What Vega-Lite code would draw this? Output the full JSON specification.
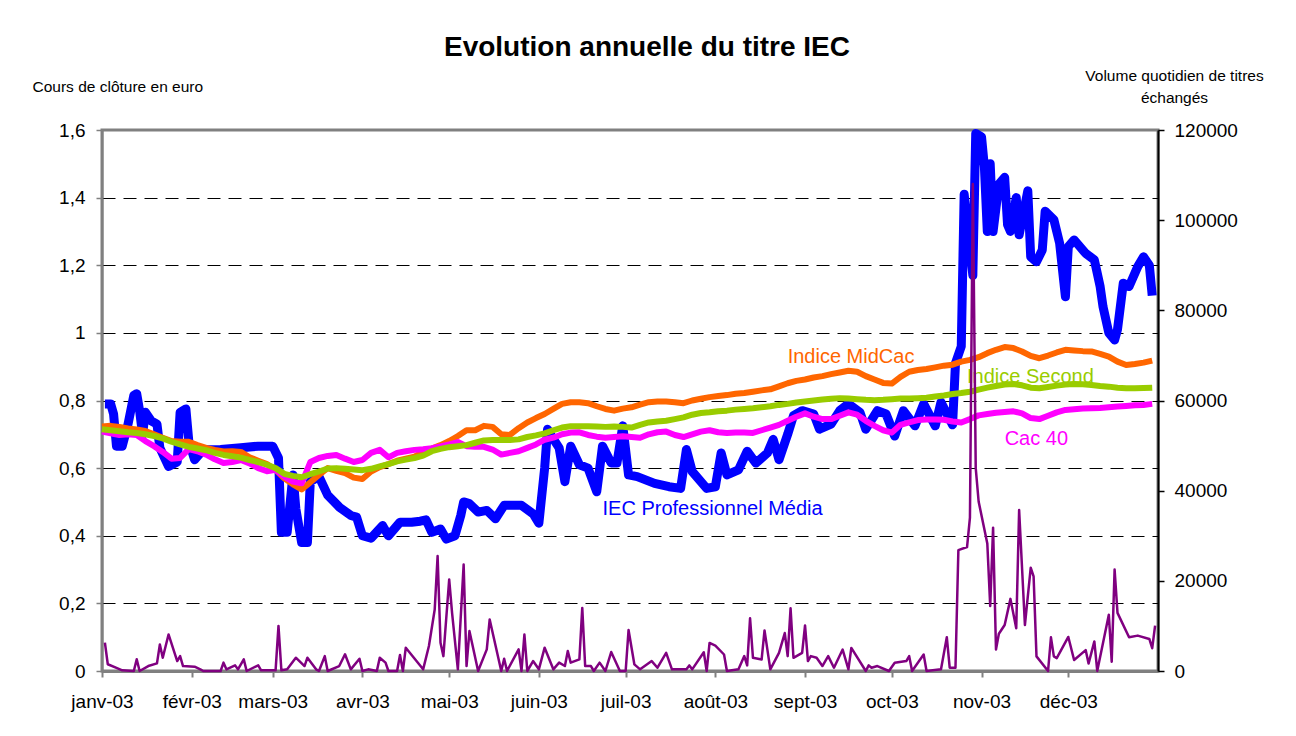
{
  "$schema": "https://vega.github.io/schema/vega-lite/v6.json",
  "width": 1056,
  "height": 541,
  "autosize": {"type": "none"},
  "padding": {"left": 102, "top": 130, "right": 138, "bottom": 65},
  "background": "white",
  "title": {"text": "Evolution annuelle du titre IEC", "fontSize": 28, "fontWeight": "bold", "font": "Liberation Sans", "color": "#000000", "anchor": "middle", "frame": "group", "dx": 17, "offset": 6},
  "datasets": {
    "idx": [
      {"date":"2003-01-01","mid":0.723,"sec":0.715,"cac":0.708},
      {"date":"2003-01-04","mid":0.725,"sec":0.712,"cac":0.703},
      {"date":"2003-01-07","mid":0.722,"sec":0.709,"cac":0.698},
      {"date":"2003-01-10","mid":0.717,"sec":0.706,"cac":0.700},
      {"date":"2003-01-13","mid":0.714,"sec":0.704,"cac":0.698},
      {"date":"2003-01-16","mid":0.710,"sec":0.700,"cac":0.680},
      {"date":"2003-01-19","mid":0.700,"sec":0.695,"cac":0.665},
      {"date":"2003-01-22","mid":0.690,"sec":0.688,"cac":0.648},
      {"date":"2003-01-25","mid":0.680,"sec":0.678,"cac":0.628},
      {"date":"2003-01-28","mid":0.678,"sec":0.670,"cac":0.630},
      {"date":"2003-01-31","mid":0.678,"sec":0.663,"cac":0.656},
      {"date":"2003-02-03","mid":0.668,"sec":0.658,"cac":0.650},
      {"date":"2003-02-06","mid":0.660,"sec":0.653,"cac":0.640},
      {"date":"2003-02-09","mid":0.654,"sec":0.645,"cac":0.626},
      {"date":"2003-02-12","mid":0.649,"sec":0.639,"cac":0.615},
      {"date":"2003-02-15","mid":0.650,"sec":0.635,"cac":0.618},
      {"date":"2003-02-18","mid":0.648,"sec":0.631,"cac":0.624},
      {"date":"2003-02-21","mid":0.632,"sec":0.624,"cac":0.614},
      {"date":"2003-02-24","mid":0.622,"sec":0.618,"cac":0.600},
      {"date":"2003-02-27","mid":0.612,"sec":0.610,"cac":0.591},
      {"date":"2003-03-02","mid":0.595,"sec":0.600,"cac":0.595},
      {"date":"2003-03-05","mid":0.570,"sec":0.583,"cac":0.575},
      {"date":"2003-03-08","mid":0.552,"sec":0.577,"cac":0.560},
      {"date":"2003-03-11","mid":0.537,"sec":0.573,"cac":0.555},
      {"date":"2003-03-14","mid":0.558,"sec":0.582,"cac":0.618},
      {"date":"2003-03-17","mid":0.580,"sec":0.590,"cac":0.630},
      {"date":"2003-03-20","mid":0.600,"sec":0.599,"cac":0.636},
      {"date":"2003-03-23","mid":0.592,"sec":0.600,"cac":0.639},
      {"date":"2003-03-26","mid":0.585,"sec":0.598,"cac":0.628},
      {"date":"2003-03-29","mid":0.572,"sec":0.596,"cac":0.618},
      {"date":"2003-04-01","mid":0.568,"sec":0.594,"cac":0.624},
      {"date":"2003-04-04","mid":0.590,"sec":0.598,"cac":0.645},
      {"date":"2003-04-07","mid":0.603,"sec":0.605,"cac":0.654},
      {"date":"2003-04-10","mid":0.612,"sec":0.612,"cac":0.632},
      {"date":"2003-04-13","mid":0.622,"sec":0.620,"cac":0.645},
      {"date":"2003-04-16","mid":0.628,"sec":0.625,"cac":0.650},
      {"date":"2003-04-19","mid":0.634,"sec":0.630,"cac":0.654},
      {"date":"2003-04-22","mid":0.648,"sec":0.637,"cac":0.656},
      {"date":"2003-04-25","mid":0.658,"sec":0.650,"cac":0.659},
      {"date":"2003-04-28","mid":0.668,"sec":0.657,"cac":0.664},
      {"date":"2003-05-01","mid":0.680,"sec":0.662,"cac":0.670},
      {"date":"2003-05-04","mid":0.695,"sec":0.665,"cac":0.677},
      {"date":"2003-05-07","mid":0.712,"sec":0.668,"cac":0.665},
      {"date":"2003-05-10","mid":0.712,"sec":0.675,"cac":0.663},
      {"date":"2003-05-13","mid":0.725,"sec":0.682,"cac":0.663},
      {"date":"2003-05-16","mid":0.722,"sec":0.683,"cac":0.655},
      {"date":"2003-05-19","mid":0.700,"sec":0.683,"cac":0.640},
      {"date":"2003-05-22","mid":0.698,"sec":0.683,"cac":0.645},
      {"date":"2003-05-25","mid":0.718,"sec":0.685,"cac":0.650},
      {"date":"2003-05-28","mid":0.735,"sec":0.692,"cac":0.660},
      {"date":"2003-05-31","mid":0.748,"sec":0.697,"cac":0.670},
      {"date":"2003-06-03","mid":0.760,"sec":0.703,"cac":0.684},
      {"date":"2003-06-06","mid":0.775,"sec":0.712,"cac":0.690},
      {"date":"2003-06-09","mid":0.790,"sec":0.720,"cac":0.700},
      {"date":"2003-06-12","mid":0.795,"sec":0.724,"cac":0.705},
      {"date":"2003-06-15","mid":0.795,"sec":0.724,"cac":0.706},
      {"date":"2003-06-18","mid":0.792,"sec":0.724,"cac":0.698},
      {"date":"2003-06-21","mid":0.783,"sec":0.723,"cac":0.693},
      {"date":"2003-06-24","mid":0.775,"sec":0.722,"cac":0.690},
      {"date":"2003-06-27","mid":0.770,"sec":0.723,"cac":0.692},
      {"date":"2003-06-30","mid":0.776,"sec":0.722,"cac":0.694},
      {"date":"2003-07-03","mid":0.780,"sec":0.720,"cac":0.692},
      {"date":"2003-07-06","mid":0.788,"sec":0.728,"cac":0.690},
      {"date":"2003-07-09","mid":0.795,"sec":0.735,"cac":0.700},
      {"date":"2003-07-12","mid":0.797,"sec":0.738,"cac":0.706},
      {"date":"2003-07-15","mid":0.797,"sec":0.740,"cac":0.708},
      {"date":"2003-07-18","mid":0.795,"sec":0.745,"cac":0.698},
      {"date":"2003-07-21","mid":0.792,"sec":0.750,"cac":0.692},
      {"date":"2003-07-24","mid":0.800,"sec":0.758,"cac":0.700},
      {"date":"2003-07-27","mid":0.805,"sec":0.763,"cac":0.708},
      {"date":"2003-07-30","mid":0.810,"sec":0.765,"cac":0.712},
      {"date":"2003-08-02","mid":0.813,"sec":0.768,"cac":0.706},
      {"date":"2003-08-05","mid":0.816,"sec":0.770,"cac":0.704},
      {"date":"2003-08-08","mid":0.820,"sec":0.773,"cac":0.705},
      {"date":"2003-08-11","mid":0.822,"sec":0.775,"cac":0.705},
      {"date":"2003-08-14","mid":0.826,"sec":0.777,"cac":0.704},
      {"date":"2003-08-17","mid":0.830,"sec":0.780,"cac":0.712},
      {"date":"2003-08-20","mid":0.833,"sec":0.783,"cac":0.720},
      {"date":"2003-08-23","mid":0.842,"sec":0.787,"cac":0.728},
      {"date":"2003-08-26","mid":0.851,"sec":0.790,"cac":0.740},
      {"date":"2003-08-29","mid":0.858,"sec":0.794,"cac":0.752},
      {"date":"2003-09-01","mid":0.862,"sec":0.797,"cac":0.762},
      {"date":"2003-09-04","mid":0.868,"sec":0.800,"cac":0.752},
      {"date":"2003-09-07","mid":0.872,"sec":0.803,"cac":0.745},
      {"date":"2003-09-10","mid":0.878,"sec":0.805,"cac":0.745},
      {"date":"2003-09-13","mid":0.883,"sec":0.807,"cac":0.755},
      {"date":"2003-09-16","mid":0.888,"sec":0.806,"cac":0.765},
      {"date":"2003-09-19","mid":0.885,"sec":0.804,"cac":0.758},
      {"date":"2003-09-22","mid":0.872,"sec":0.802,"cac":0.740},
      {"date":"2003-09-25","mid":0.862,"sec":0.801,"cac":0.725},
      {"date":"2003-09-28","mid":0.852,"sec":0.802,"cac":0.712},
      {"date":"2003-10-01","mid":0.850,"sec":0.804,"cac":0.705},
      {"date":"2003-10-04","mid":0.870,"sec":0.806,"cac":0.728},
      {"date":"2003-10-07","mid":0.885,"sec":0.806,"cac":0.735},
      {"date":"2003-10-10","mid":0.890,"sec":0.807,"cac":0.742},
      {"date":"2003-10-13","mid":0.893,"sec":0.808,"cac":0.744},
      {"date":"2003-10-16","mid":0.898,"sec":0.812,"cac":0.744},
      {"date":"2003-10-19","mid":0.903,"sec":0.815,"cac":0.743},
      {"date":"2003-10-22","mid":0.906,"sec":0.819,"cac":0.738},
      {"date":"2003-10-25","mid":0.915,"sec":0.822,"cac":0.735},
      {"date":"2003-10-28","mid":0.920,"sec":0.826,"cac":0.745},
      {"date":"2003-10-31","mid":0.928,"sec":0.832,"cac":0.756},
      {"date":"2003-11-03","mid":0.940,"sec":0.838,"cac":0.760},
      {"date":"2003-11-06","mid":0.950,"sec":0.843,"cac":0.764},
      {"date":"2003-11-09","mid":0.958,"sec":0.847,"cac":0.766},
      {"date":"2003-11-12","mid":0.955,"sec":0.849,"cac":0.768},
      {"date":"2003-11-15","mid":0.945,"sec":0.845,"cac":0.762},
      {"date":"2003-11-18","mid":0.932,"sec":0.838,"cac":0.748},
      {"date":"2003-11-21","mid":0.925,"sec":0.836,"cac":0.745},
      {"date":"2003-11-24","mid":0.933,"sec":0.840,"cac":0.755},
      {"date":"2003-11-27","mid":0.942,"sec":0.844,"cac":0.765},
      {"date":"2003-11-30","mid":0.950,"sec":0.847,"cac":0.772},
      {"date":"2003-12-03","mid":0.948,"sec":0.849,"cac":0.774},
      {"date":"2003-12-06","mid":0.946,"sec":0.848,"cac":0.776},
      {"date":"2003-12-09","mid":0.945,"sec":0.846,"cac":0.777},
      {"date":"2003-12-12","mid":0.938,"sec":0.843,"cac":0.778},
      {"date":"2003-12-15","mid":0.930,"sec":0.841,"cac":0.780},
      {"date":"2003-12-18","mid":0.915,"sec":0.838,"cac":0.782},
      {"date":"2003-12-21","mid":0.905,"sec":0.836,"cac":0.784},
      {"date":"2003-12-24","mid":0.908,"sec":0.836,"cac":0.786},
      {"date":"2003-12-27","mid":0.912,"sec":0.837,"cac":0.787},
      {"date":"2003-12-30","mid":0.918,"sec":0.838,"cac":0.790}
    ],
    "iec": [
      {"date":"2003-01-02","v":0.79},{"date":"2003-01-04","v":0.79},{"date":"2003-01-05","v":0.76},
      {"date":"2003-01-06","v":0.665},{"date":"2003-01-08","v":0.665},{"date":"2003-01-10","v":0.73},
      {"date":"2003-01-12","v":0.815},{"date":"2003-01-13","v":0.82},{"date":"2003-01-14","v":0.77},
      {"date":"2003-01-15","v":0.70},{"date":"2003-01-16","v":0.765},{"date":"2003-01-18","v":0.74},
      {"date":"2003-01-20","v":0.73},{"date":"2003-01-21","v":0.66},{"date":"2003-01-24","v":0.605},
      {"date":"2003-01-27","v":0.618},{"date":"2003-01-28","v":0.765},{"date":"2003-01-30","v":0.775},
      {"date":"2003-01-31","v":0.68},{"date":"2003-02-02","v":0.625},{"date":"2003-02-05","v":0.654},
      {"date":"2003-02-11","v":0.655},{"date":"2003-02-18","v":0.66},{"date":"2003-02-24","v":0.665},
      {"date":"2003-03-01","v":0.665},{"date":"2003-03-03","v":0.63},{"date":"2003-03-04","v":0.41},
      {"date":"2003-03-06","v":0.41},{"date":"2003-03-08","v":0.58},{"date":"2003-03-09","v":0.48},
      {"date":"2003-03-11","v":0.38},{"date":"2003-03-13","v":0.38},{"date":"2003-03-14","v":0.56},
      {"date":"2003-03-17","v":0.575},{"date":"2003-03-20","v":0.52},{"date":"2003-03-24","v":0.485},
      {"date":"2003-03-28","v":0.46},{"date":"2003-03-30","v":0.455},{"date":"2003-04-01","v":0.40},
      {"date":"2003-04-04","v":0.393},{"date":"2003-04-08","v":0.43},{"date":"2003-04-10","v":0.40},
      {"date":"2003-04-14","v":0.44},{"date":"2003-04-18","v":0.44},{"date":"2003-04-21","v":0.443},
      {"date":"2003-04-23","v":0.447},{"date":"2003-04-25","v":0.41},{"date":"2003-04-28","v":0.42},
      {"date":"2003-04-30","v":0.39},{"date":"2003-05-03","v":0.40},{"date":"2003-05-05","v":0.46},
      {"date":"2003-05-06","v":0.50},{"date":"2003-05-08","v":0.495},{"date":"2003-05-11","v":0.47},
      {"date":"2003-05-14","v":0.475},{"date":"2003-05-17","v":0.45},{"date":"2003-05-20","v":0.49},
      {"date":"2003-05-23","v":0.49},{"date":"2003-05-26","v":0.49},{"date":"2003-05-30","v":0.465},
      {"date":"2003-06-01","v":0.437},{"date":"2003-06-03","v":0.60},{"date":"2003-06-04","v":0.715},
      {"date":"2003-06-05","v":0.70},{"date":"2003-06-08","v":0.66},{"date":"2003-06-10","v":0.56},
      {"date":"2003-06-12","v":0.665},{"date":"2003-06-15","v":0.61},{"date":"2003-06-18","v":0.60},
      {"date":"2003-06-21","v":0.53},{"date":"2003-06-23","v":0.665},{"date":"2003-06-26","v":0.615},
      {"date":"2003-06-28","v":0.615},{"date":"2003-06-30","v":0.725},{"date":"2003-07-02","v":0.58},
      {"date":"2003-07-05","v":0.575},{"date":"2003-07-11","v":0.555},{"date":"2003-07-16","v":0.545},
      {"date":"2003-07-20","v":0.54},{"date":"2003-07-22","v":0.655},{"date":"2003-07-24","v":0.59},
      {"date":"2003-07-29","v":0.54},{"date":"2003-08-01","v":0.545},{"date":"2003-08-03","v":0.645},
      {"date":"2003-08-05","v":0.58},{"date":"2003-08-09","v":0.595},{"date":"2003-08-12","v":0.65},
      {"date":"2003-08-15","v":0.615},{"date":"2003-08-19","v":0.645},{"date":"2003-08-21","v":0.685},
      {"date":"2003-08-23","v":0.625},{"date":"2003-08-26","v":0.70},{"date":"2003-08-28","v":0.755},
      {"date":"2003-08-31","v":0.77},{"date":"2003-09-04","v":0.76},{"date":"2003-09-06","v":0.715},
      {"date":"2003-09-10","v":0.73},{"date":"2003-09-13","v":0.77},{"date":"2003-09-16","v":0.79},
      {"date":"2003-09-20","v":0.765},{"date":"2003-09-22","v":0.715},{"date":"2003-09-26","v":0.77},
      {"date":"2003-09-29","v":0.76},{"date":"2003-10-02","v":0.695},{"date":"2003-10-05","v":0.77},
      {"date":"2003-10-09","v":0.725},{"date":"2003-10-12","v":0.79},{"date":"2003-10-16","v":0.725},
      {"date":"2003-10-18","v":0.795},{"date":"2003-10-22","v":0.728},{"date":"2003-10-23","v":0.91},
      {"date":"2003-10-25","v":0.96},{"date":"2003-10-26","v":1.41},{"date":"2003-10-29","v":1.17},
      {"date":"2003-10-30","v":1.59},{"date":"2003-11-01","v":1.58},{"date":"2003-11-02","v":1.49},
      {"date":"2003-11-03","v":1.30},{"date":"2003-11-04","v":1.50},{"date":"2003-11-05","v":1.30},
      {"date":"2003-11-07","v":1.44},{"date":"2003-11-09","v":1.46},{"date":"2003-11-10","v":1.32},
      {"date":"2003-11-11","v":1.30},{"date":"2003-11-13","v":1.40},{"date":"2003-11-14","v":1.29},
      {"date":"2003-11-17","v":1.42},{"date":"2003-11-18","v":1.225},{"date":"2003-11-20","v":1.21},
      {"date":"2003-11-22","v":1.245},{"date":"2003-11-23","v":1.36},{"date":"2003-11-26","v":1.335},
      {"date":"2003-11-28","v":1.265},{"date":"2003-11-30","v":1.107},{"date":"2003-12-01","v":1.255},
      {"date":"2003-12-03","v":1.275},{"date":"2003-12-05","v":1.255},{"date":"2003-12-07","v":1.235},
      {"date":"2003-12-10","v":1.216},{"date":"2003-12-12","v":1.137},{"date":"2003-12-13","v":1.077},
      {"date":"2003-12-15","v":1.00},{"date":"2003-12-17","v":0.979},{"date":"2003-12-18","v":1.01},
      {"date":"2003-12-20","v":1.147},{"date":"2003-12-22","v":1.137},{"date":"2003-12-25","v":1.196},
      {"date":"2003-12-27","v":1.225},{"date":"2003-12-29","v":1.20},{"date":"2003-12-30","v":1.11}
    ],
    "vol": [
      {"date":"2003-01-02","v":6300},{"date":"2003-01-03","v":1500},{"date":"2003-01-06","v":700},
      {"date":"2003-01-08","v":150},{"date":"2003-01-12","v":0},{"date":"2003-01-13","v":2600},
      {"date":"2003-01-14","v":0},{"date":"2003-01-17","v":1100},{"date":"2003-01-20","v":1700},
      {"date":"2003-01-21","v":5900},{"date":"2003-01-22","v":2950},{"date":"2003-01-24","v":8100},
      {"date":"2003-01-27","v":2200},{"date":"2003-01-28","v":3300},{"date":"2003-01-29","v":1100},
      {"date":"2003-02-02","v":960},{"date":"2003-02-04","v":370},{"date":"2003-02-05","v":0},
      {"date":"2003-02-11","v":0},{"date":"2003-02-12","v":1850},{"date":"2003-02-13","v":370},
      {"date":"2003-02-16","v":1250},{"date":"2003-02-17","v":370},{"date":"2003-02-19","v":2580},
      {"date":"2003-02-20","v":0},{"date":"2003-02-24","v":1250},{"date":"2003-02-25","v":150},
      {"date":"2003-03-02","v":150},{"date":"2003-03-03","v":10000},{"date":"2003-03-04","v":150},
      {"date":"2003-03-06","v":370},{"date":"2003-03-09","v":2950},{"date":"2003-03-12","v":1100},
      {"date":"2003-03-13","v":2950},{"date":"2003-03-16","v":370},{"date":"2003-03-17","v":0},
      {"date":"2003-03-19","v":3300},{"date":"2003-03-20","v":0},{"date":"2003-03-24","v":1100},
      {"date":"2003-03-26","v":3700},{"date":"2003-03-28","v":370},{"date":"2003-03-31","v":2700},
      {"date":"2003-04-01","v":0},{"date":"2003-04-03","v":370},{"date":"2003-04-06","v":0},
      {"date":"2003-04-07","v":2950},{"date":"2003-04-09","v":1850},{"date":"2003-04-10","v":0},
      {"date":"2003-04-13","v":0},{"date":"2003-04-14","v":3540},{"date":"2003-04-15","v":0},
      {"date":"2003-04-16","v":5170},{"date":"2003-04-22","v":370},{"date":"2003-04-24","v":5540},
      {"date":"2003-04-26","v":13650},{"date":"2003-04-27","v":25500},{"date":"2003-04-28","v":6270},
      {"date":"2003-04-29","v":3300},{"date":"2003-05-01","v":20300},{"date":"2003-05-02","v":12900},
      {"date":"2003-05-04","v":370},{"date":"2003-05-06","v":23600},{"date":"2003-05-07","v":1100},
      {"date":"2003-05-08","v":8860},{"date":"2003-05-11","v":0},{"date":"2003-05-14","v":4800},
      {"date":"2003-05-15","v":11440},{"date":"2003-05-19","v":0},{"date":"2003-05-20","v":2730},
      {"date":"2003-05-21","v":0},{"date":"2003-05-25","v":4800},{"date":"2003-05-26","v":0},
      {"date":"2003-05-27","v":8100},{"date":"2003-05-28","v":0},{"date":"2003-05-30","v":2200},
      {"date":"2003-06-01","v":370},{"date":"2003-06-03","v":5170},{"date":"2003-06-06","v":370},
      {"date":"2003-06-08","v":1850},{"date":"2003-06-10","v":1100},{"date":"2003-06-11","v":4430},
      {"date":"2003-06-12","v":1850},{"date":"2003-06-15","v":2580},{"date":"2003-06-16","v":14000},
      {"date":"2003-06-17","v":1100},{"date":"2003-06-19","v":1100},{"date":"2003-06-20","v":0},
      {"date":"2003-06-22","v":1850},{"date":"2003-06-24","v":0},{"date":"2003-06-26","v":4200},
      {"date":"2003-06-29","v":0},{"date":"2003-07-01","v":0},{"date":"2003-07-02","v":9080},
      {"date":"2003-07-04","v":1480},{"date":"2003-07-06","v":370},{"date":"2003-07-10","v":2200},
      {"date":"2003-07-12","v":730},{"date":"2003-07-15","v":4030},{"date":"2003-07-17","v":370},
      {"date":"2003-07-22","v":370},{"date":"2003-07-23","v":1240},{"date":"2003-07-24","v":370},
      {"date":"2003-07-28","v":4170},{"date":"2003-07-29","v":0},{"date":"2003-07-30","v":6220},
      {"date":"2003-08-01","v":5640},{"date":"2003-08-04","v":3660},{"date":"2003-08-05","v":0},
      {"date":"2003-08-09","v":370},{"date":"2003-08-11","v":3300},{"date":"2003-08-12","v":1240},
      {"date":"2003-08-13","v":11700},{"date":"2003-08-14","v":2930},{"date":"2003-08-17","v":2560},
      {"date":"2003-08-18","v":9000},{"date":"2003-08-20","v":370},{"date":"2003-08-23","v":4030},
      {"date":"2003-08-25","v":8420},{"date":"2003-08-26","v":3300},{"date":"2003-08-27","v":13900},
      {"date":"2003-08-28","v":2930},{"date":"2003-08-31","v":4030},{"date":"2003-09-01","v":10100},
      {"date":"2003-09-02","v":2200},{"date":"2003-09-03","v":3300},{"date":"2003-09-05","v":2930},
      {"date":"2003-09-07","v":1100},{"date":"2003-09-09","v":3300},{"date":"2003-09-11","v":730},
      {"date":"2003-09-14","v":4760},{"date":"2003-09-16","v":370},{"date":"2003-09-17","v":5120},
      {"date":"2003-09-22","v":0},{"date":"2003-09-23","v":1240},{"date":"2003-09-24","v":730},
      {"date":"2003-09-26","v":1100},{"date":"2003-09-30","v":0},{"date":"2003-10-02","v":1830},
      {"date":"2003-10-06","v":2200},{"date":"2003-10-07","v":3300},{"date":"2003-10-08","v":0},
      {"date":"2003-10-12","v":3660},{"date":"2003-10-13","v":0},{"date":"2003-10-18","v":370},
      {"date":"2003-10-20","v":7500},{"date":"2003-10-21","v":730},{"date":"2003-10-23","v":730},
      {"date":"2003-10-24","v":26800},{"date":"2003-10-27","v":27500},{"date":"2003-10-28","v":34000},
      {"date":"2003-10-29","v":108000},{"date":"2003-10-30","v":45000},{"date":"2003-10-31","v":37600},
      {"date":"2003-11-03","v":28300},{"date":"2003-11-04","v":14440},{"date":"2003-11-05","v":31800},
      {"date":"2003-11-06","v":4770},{"date":"2003-11-07","v":8250},{"date":"2003-11-09","v":10200},
      {"date":"2003-11-11","v":16000},{"date":"2003-11-13","v":9470},{"date":"2003-11-14","v":35700},
      {"date":"2003-11-16","v":10200},{"date":"2003-11-18","v":22900},{"date":"2003-11-19","v":21000},
      {"date":"2003-11-20","v":3240},{"date":"2003-11-24","v":0},{"date":"2003-11-25","v":7470},
      {"date":"2003-11-26","v":3240},{"date":"2003-11-27","v":2860},{"date":"2003-12-01","v":7550},
      {"date":"2003-12-03","v":2440},{"date":"2003-12-07","v":4640},{"date":"2003-12-08","v":1640},
      {"date":"2003-12-10","v":6560},{"date":"2003-12-11","v":0},{"date":"2003-12-15","v":12500},
      {"date":"2003-12-16","v":2060},{"date":"2003-12-17","v":22500},{"date":"2003-12-18","v":12900},
      {"date":"2003-12-22","v":7470},{"date":"2003-12-25","v":7850},{"date":"2003-12-29","v":7100},
      {"date":"2003-12-30","v":5060},{"date":"2003-12-31","v":10070}
    ],
    "lbl": [
      {"date":"2003-06-23","v":0.461,"label":"IEC Professionnel Média"},
      {"date":"2003-08-26","v":0.911,"label":"Indice MidCac"},
      {"date":"2003-10-27","v":0.853,"label":"Indice Second"},
      {"date":"2003-11-09","v":0.667,"label":"Cac 40"}
    ]
  },
  "layer": [
    {
      "layer": [
        {
          "data": {"name": "iec"},
          "mark": {"type": "line", "color": "#0000FF", "strokeWidth": 9, "strokeJoin": "round", "strokeCap": "butt"},
          "encoding": {
            "x": {
              "field": "date", "type": "temporal",
              "scale": {"type": "utc", "domain": [{"year": 2003, "month": 1, "date": 1, "utc": true}, {"year": 2004, "month": 1, "date": 1, "utc": true}]},
              "axis": {
                "title": null,
                "values": [
                  {"year": 2003, "month": 1, "date": 1, "utc": true},
                  {"year": 2003, "month": 2, "date": 1, "utc": true},
                  {"year": 2003, "month": 3, "date": 1, "utc": true},
                  {"year": 2003, "month": 4, "date": 1, "utc": true},
                  {"year": 2003, "month": 5, "date": 1, "utc": true},
                  {"year": 2003, "month": 6, "date": 1, "utc": true},
                  {"year": 2003, "month": 7, "date": 1, "utc": true},
                  {"year": 2003, "month": 8, "date": 1, "utc": true},
                  {"year": 2003, "month": 9, "date": 1, "utc": true},
                  {"year": 2003, "month": 10, "date": 1, "utc": true},
                  {"year": 2003, "month": 11, "date": 1, "utc": true},
                  {"year": 2003, "month": 12, "date": 1, "utc": true}
                ],
                "labelExpr": "['janv','févr','mars','avr','mai','juin','juil','août','sept','oct','nov','déc'][utcmonth(datum.value)] + '-03'",
                "grid": false,
                "labelFlush": false,
                "labelOverlap": false,
                "domainColor": "#808080",
                "domainWidth": 3,
                "tickColor": "#808080",
                "tickWidth": 2,
                "tickSize": 6,
                "labelFontSize": 19,
                "labelPadding": 15
              }
            },
            "y": {
              "field": "v", "type": "quantitative",
              "scale": {"domain": [0, 1.6], "nice": false, "zero": true},
              "axis": {
                "title": "Cours de clôture en euro",
                "titleAngle": 0,
                "titleAlign": "left",
                "titleBaseline": "alphabetic",
                "titleX": -70,
                "titleY": -39,
                "titleFontSize": 15.5,
                "titleFontWeight": "normal",
                "values": [0, 0.2, 0.4, 0.6, 0.8, 1, 1.2, 1.4, 1.6],
                "labelExpr": "replace(toString(datum.value), '.', ',')",
                "grid": true,
                "gridColor": "#000000",
                "gridDash": [13, 8],
                "gridWidth": 1,
                "gridOpacity": {"condition": {"test": "datum.value == 0 || datum.value == 1.6", "value": 0}, "value": 1},
                "domainColor": "#808080",
                "domainWidth": 2,
                "tickColor": "#808080",
                "tickWidth": 1.5,
                "tickSize": 6,
                "labelFontSize": 19,
                "labelPadding": 11,
                "labelFlush": false
              }
            }
          }
        },
        {
          "data": {"name": "idx"},
          "mark": {"type": "line", "color": "#FF6600", "strokeWidth": 6, "strokeJoin": "round"},
          "encoding": {
            "x": {"field": "date", "type": "temporal"},
            "y": {"field": "mid", "type": "quantitative"}
          }
        },
        {
          "data": {"name": "idx"},
          "mark": {"type": "line", "color": "#FF00FF", "strokeWidth": 6, "strokeJoin": "round"},
          "encoding": {
            "x": {"field": "date", "type": "temporal"},
            "y": {"field": "cac", "type": "quantitative"}
          }
        },
        {
          "data": {"name": "idx"},
          "mark": {"type": "line", "color": "#99CC00", "strokeWidth": 6, "strokeJoin": "round"},
          "encoding": {
            "x": {"field": "date", "type": "temporal"},
            "y": {"field": "sec", "type": "quantitative"}
          }
        },
        {
          "data": {"name": "lbl"},
          "mark": {"type": "text", "align": "left", "baseline": "alphabetic", "fontSize": 20, "font": "Liberation Sans"},
          "encoding": {
            "x": {"field": "date", "type": "temporal"},
            "y": {"field": "v", "type": "quantitative"},
            "text": {"field": "label"},
            "color": {
              "field": "label", "type": "nominal", "legend": null,
              "scale": {"domain": ["IEC Professionnel Média", "Indice MidCac", "Indice Second", "Cac 40"], "range": ["#0000FF", "#FF6600", "#99CC00", "#FF00FF"]}
            }
          }
        }
      ]
    },
    {
      "data": {"name": "vol"},
      "mark": {"type": "line", "color": "#800080", "strokeWidth": 2.5, "strokeJoin": "round"},
      "encoding": {
        "x": {"field": "date", "type": "temporal"},
        "y": {
          "field": "v", "type": "quantitative",
          "scale": {"domain": [0, 120000], "nice": false, "zero": true},
          "axis": {
            "orient": "right",
            "title": ["Volume quotidien de titres", "échangés"],
            "titleAngle": 0,
            "titleAlign": "center",
            "titleBaseline": "alphabetic",
            "titleX": 16,
            "titleY": -50,
            "titleLineHeight": 22,
            "titleFontSize": 15.5,
            "titleFontWeight": "normal",
            "values": [0, 20000, 40000, 60000, 80000, 100000, 120000],
            "format": "d",
            "grid": false,
            "domainColor": "#000000",
            "domainWidth": 2,
            "tickColor": "#000000",
            "tickWidth": 1.5,
            "tickSize": 6,
            "labelFontSize": 19,
            "labelPadding": 10,
            "labelFlush": false
          }
        }
      }
    }
  ],
  "resolve": {"scale": {"y": "independent"}},
  "config": {
    "font": "Liberation Sans",
    "view": {"stroke": "#808080", "strokeWidth": 3},
    "axis": {"labelFont": "Liberation Sans", "titleFont": "Liberation Sans", "labelColor": "#000000", "titleColor": "#000000"}
  }
}
